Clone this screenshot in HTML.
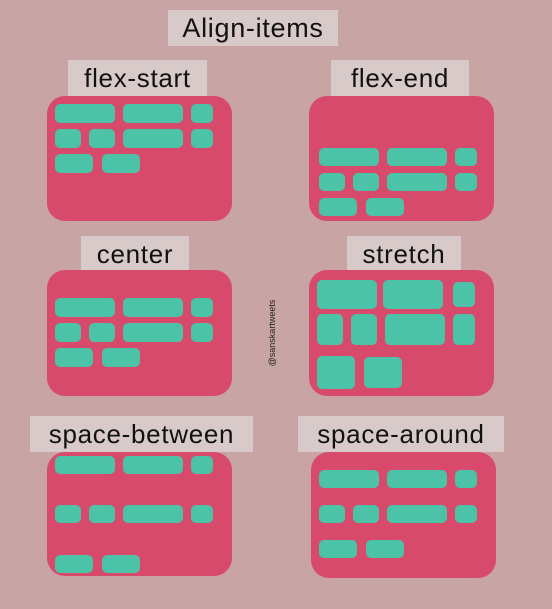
<!DOCTYPE html>
<html><head><meta charset="utf-8"><style>
html,body{margin:0;padding:0}
body{width:552px;height:609px;background:#c8a4a4;position:relative;overflow:hidden;font-family:"Liberation Sans",sans-serif}
.lab{position:absolute;background:#d9caca;color:#111;font-size:26px;display:flex;align-items:center;justify-content:center;letter-spacing:0.7px}
.box{position:absolute;background:#d84a6c;border-radius:18px}
.it{position:absolute;background:#4cc3a6;border-radius:5px}
.wm{position:absolute;left:272px;top:333px;transform:translate(-50%,-50%) rotate(-90deg);font-size:9px;color:#222;white-space:nowrap}
</style></head><body>
<div class="wm">@sanskartweets</div>
<script>
const labels=[["Align-items",168,10,170,36],["flex-start",68,60,139,36],["flex-end",331,60,138,36],["center",81,236,108,36],["stretch",347,236,114,36],["space-between",30,416,223,36],["space-around",298,416,206,36]];
const boxes=[["flex-start",47,96,185,125],["flex-end",309,96,185,125],["center",47,270,185,126],["stretch",309,270,185,126],["space-between",47,452,185,124],["space-around",311,452,185,126]];
const xsA=[[55,60],[123,60],[191,22]],xsB=[[55,26],[89,26],[123,60],[191,22]],xsC=[[55,38],[102,38]];
function rowsFor(dx,ys,h){const r=[];[xsA,xsB,xsC].forEach((xs,i)=>xs.forEach(([x,w])=>r.push([x+dx,ys[i],w,h[i]])));return r;}
const items=[].concat(
 rowsFor(0,[104,129,154],[19,19,19]),
 rowsFor(264,[148,173,198],[18,18,18]),
 rowsFor(0,[298,323,348],[19,19,19]),
 rowsFor(0,[456,505,555],[18,18,18]),
 rowsFor(264,[470,505,540],[18,18,18])
);
const st=[[317,280,60,29],[383,280,60,29],[453,282,22,25],[317,314,26,31],[351,314,26,31],[385,314,60,31],[453,314,22,31],[317,356,38,33],[364,357,38,31]];
labels.forEach(l=>{const d=document.createElement('div');d.className='lab';d.textContent=l[0];


Object.assign(d.style,{left:l[1]+'px',top:l[2]+'px',width:l[3]+'px',height:l[4]+'px'});
if(l[0]==='Align-items')d.style.fontSize='27px';document.body.appendChild(d);});
boxes.forEach(b=>{const d=document.createElement('div');d.className='box';


Object.assign(d.style,{left:b[1]+'px',top:b[2]+'px',width:b[3]+'px',height:b[4]+'px'});document.body.appendChild(d);});
items.concat(st).forEach(r=>{const d=document.createElement('div');d.className='it';


Object.assign(d.style,{left:r[0]+'px',top:r[1]+'px',width:r[2]+'px',height:r[3]+'px'});document.body.appendChild(d);});
</script>
</body></html>
